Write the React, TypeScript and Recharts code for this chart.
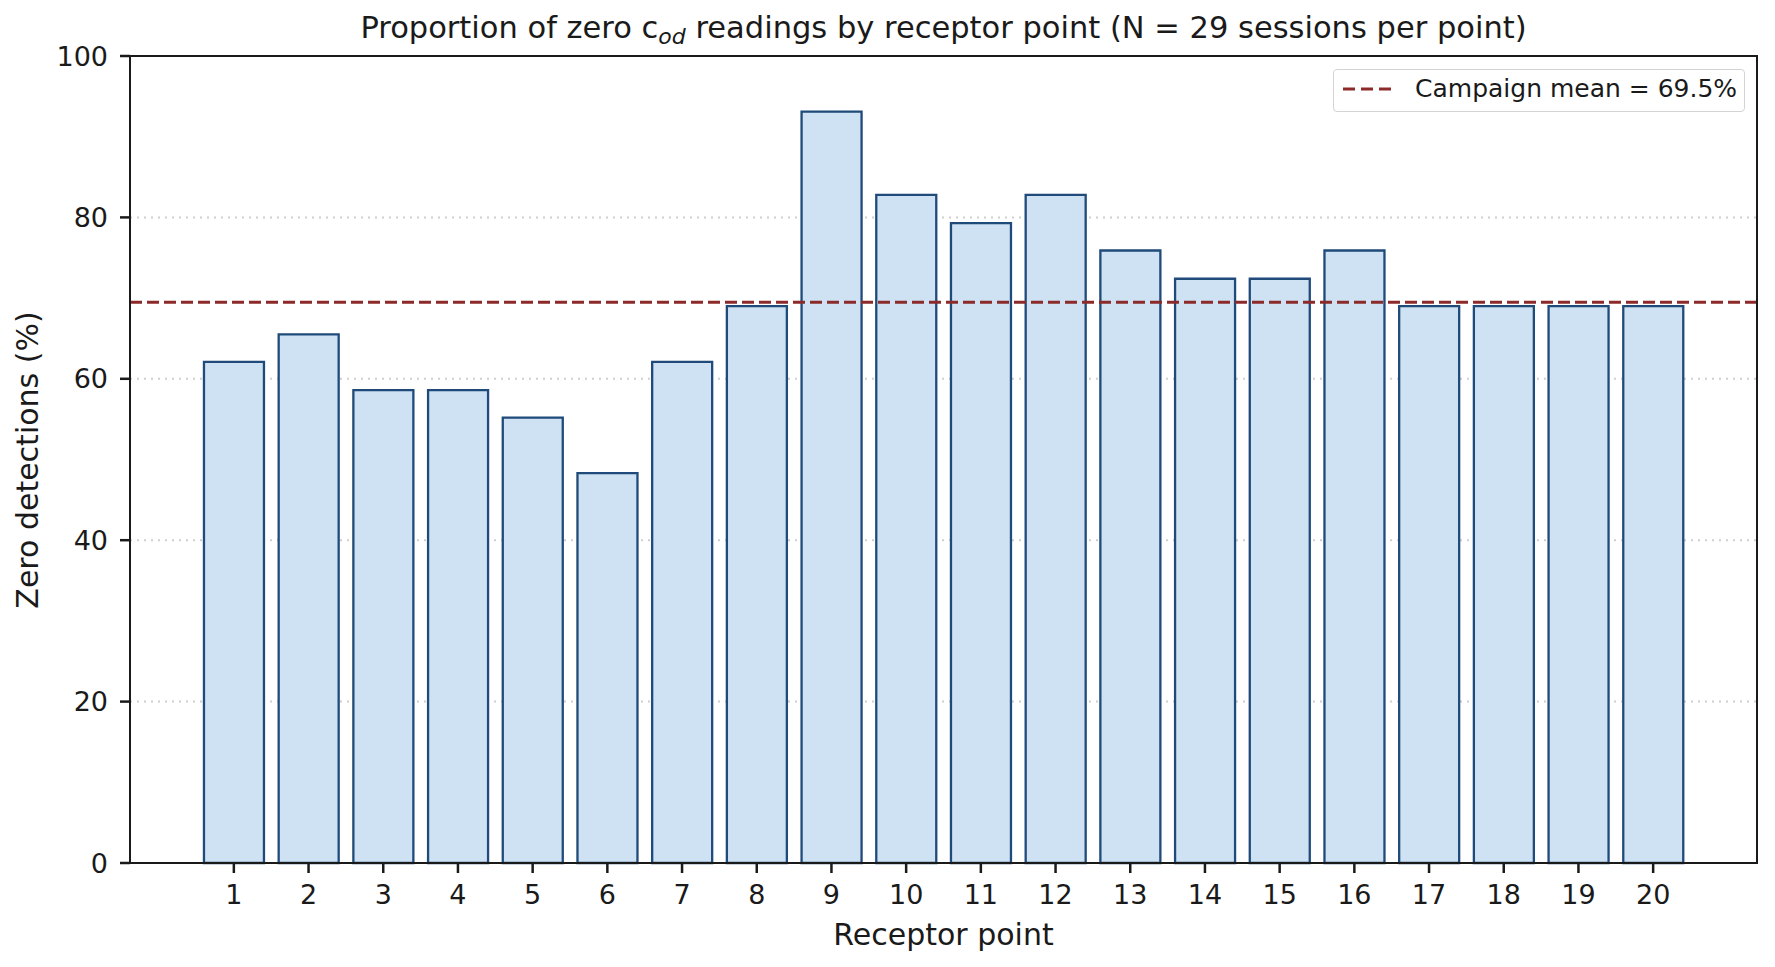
import { BarChart, Bar, XAxis, YAxis, CartesianGrid, ReferenceLine } from 'recharts';

const FONT = '"DejaVu Sans", Verdana, sans-serif';

const points = ['1', '2', '3', '4', '5', '6', '7', '8', '9', '10', '11', '12', '13', '14', '15', '16', '17', '18', '19', '20'];
// % of the 29 sessions at each point with a zero reading
const zeroPct = [62.1, 65.5, 58.6, 58.6, 55.2, 48.3, 62.1, 69.0, 93.1, 82.8, 79.3, 82.8, 75.9, 72.4, 72.4, 75.9, 69.0, 69.0, 69.0, 69.0];
const campaignMean = 69.5;
const yTicks = [0, 20, 40, 60, 80, 100];

const chartData = points.map((p, i) => ({ point: p, zero: zeroPct[i] }));

const W = 1775;
const H = 967;
const PLOT = { left: 130, top: 56, right: 1757, bottom: 863 };

const BAR_FILL = '#cfe2f3';
const BAR_EDGE = '#1f4a7a';
const MEAN_COLOR = '#8c2a2a';
const INK = '#1a1a1a';

export default function App() {
  const tickStyle = { fill: INK, fontSize: 27, fontFamily: FONT };
  return (
    <div style={{ position: 'absolute', left: 0, top: 0, width: W, height: H, background: '#fff', fontFamily: FONT }}>
      <BarChart
        width={W}
        height={H}
        data={chartData}
        barCategoryGap="10%"
        margin={{ top: PLOT.top, right: W - PLOT.right, left: 0, bottom: H - PLOT.bottom - 60 }}
      >
        <CartesianGrid vertical={false} stroke="#cfcfcf" strokeWidth={2} strokeDasharray="2 5" />
        <XAxis
          dataKey="point"
          interval={0}
          height={60}
          padding={{ left: 66.5, right: 66.5 }}
          axisLine={false}
          tickSize={10}
          tickMargin={12}
          tickLine={{ stroke: INK, strokeWidth: 2.5 }}
          tick={tickStyle}
        />
        <YAxis
          width={PLOT.left}
          domain={[0, 100]}
          ticks={yTicks}
          axisLine={false}
          tickSize={10}
          tickMargin={12}
          tickLine={{ stroke: INK, strokeWidth: 2.5 }}
          tick={tickStyle}
        />
        <Bar dataKey="zero" fill={BAR_FILL} stroke={BAR_EDGE} strokeWidth={2.3} isAnimationActive={false} />
        <ReferenceLine y={campaignMean} stroke={MEAN_COLOR} strokeWidth={3} strokeDasharray="12 5" />
      </BarChart>

      {/* axes frame */}
      <div
        style={{
          position: 'absolute',
          left: PLOT.left - 1.25,
          top: PLOT.top - 1.25,
          width: PLOT.right - PLOT.left + 2.5,
          height: PLOT.bottom - PLOT.top + 2.5,
          border: `2.5px solid ${INK}`,
          boxSizing: 'border-box',
          pointerEvents: 'none',
        }}
      />

      {/* title */}
      <div
        style={{
          position: 'absolute',
          left: PLOT.left,
          width: PLOT.right - PLOT.left,
          top: 13,
          height: 30,
          lineHeight: '30px',
          fontSize: 30.5,
          textAlign: 'center',
          color: INK,
          whiteSpace: 'nowrap',
        }}
      >
        Proportion of zero c
        <span style={{ fontSize: 22, fontStyle: 'italic', position: 'relative', top: 6 }}>od</span> readings by receptor
        point (N = 29 sessions per point)
      </div>

      {/* axis labels */}
      <div
        style={{
          position: 'absolute',
          left: PLOT.left,
          width: PLOT.right - PLOT.left,
          top: 920,
          lineHeight: '30px',
          fontSize: 30,
          textAlign: 'center',
          color: INK,
        }}
      >
        Receptor point
      </div>
      <div
        style={{
          position: 'absolute',
          left: 28 - 200,
          top: (PLOT.top + PLOT.bottom) / 2 - 15,
          width: 400,
          lineHeight: '30px',
          fontSize: 30,
          textAlign: 'center',
          color: INK,
          transform: 'rotate(-90deg)',
          whiteSpace: 'nowrap',
        }}
      >
        Zero detections (%)
      </div>

      {/* legend */}
      <div
        style={{
          position: 'absolute',
          left: 1333,
          top: 69,
          width: 412,
          height: 43,
          border: '1.5px solid #d4d4d4',
          borderRadius: 4,
          boxSizing: 'border-box',
          background: 'rgba(255,255,255,0.85)',
        }}
      >
        <svg width={50} height={10} style={{ position: 'absolute', left: 9, top: 14 }}>
          <line x1={0} y1={5} x2={48} y2={5} stroke={MEAN_COLOR} strokeWidth={3} strokeDasharray="12 6" />
        </svg>
        <div
          style={{
            position: 'absolute',
            left: 81,
            top: 4,
            lineHeight: '30px',
            fontSize: 25,
            color: INK,
            whiteSpace: 'nowrap',
          }}
        >
          Campaign mean = {campaignMean.toFixed(1)}%
        </div>
      </div>
    </div>
  );
}
